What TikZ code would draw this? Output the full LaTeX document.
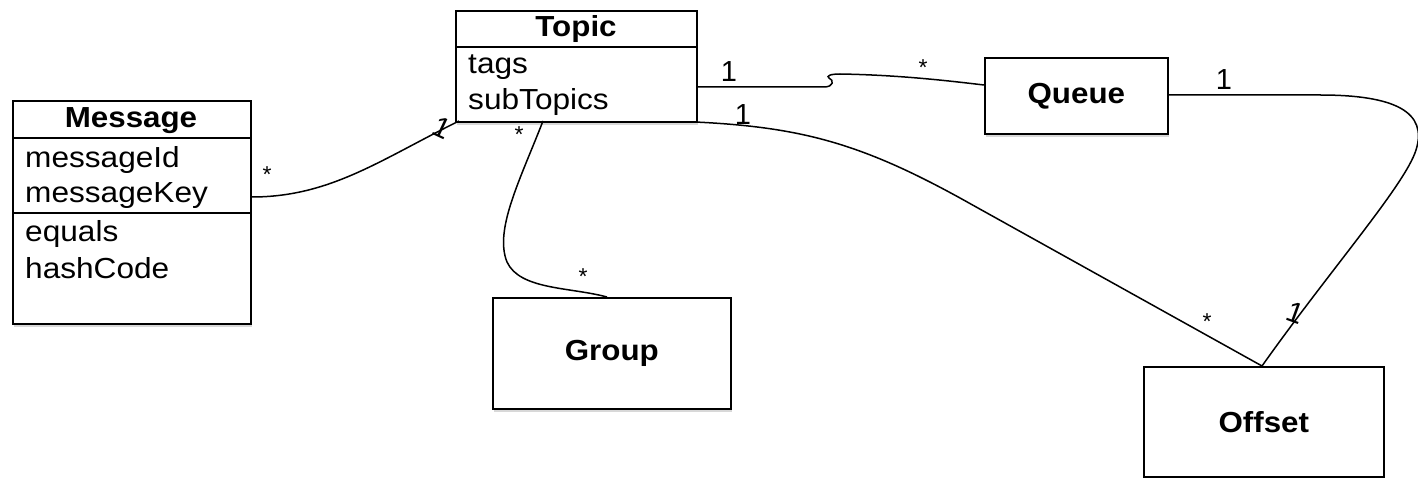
\documentclass[tikz,border=0pt]{standalone}
\usepackage{fontspec}
\setmainfont{Liberation Sans}
\usetikzlibrary{shadows}
\begin{document}
\begin{tikzpicture}[x=1pt,y=-1pt,
  box/.style={draw=black, line width=1.6pt, fill=white, rectangle, inner sep=0pt,
    drop shadow={shadow xshift=1pt, shadow yshift=-3pt, opacity=0.3}},
  conn/.style={draw=black, line width=1.5pt},
  sep/.style={draw=black, line width=1.5pt},
  attr/.style={font=\fontsize{29}{34}\selectfont, inner sep=0pt, anchor=base west, xscale=1.09},
  ttl/.style={font=\bfseries\fontsize{29}{34}\selectfont, inner sep=0pt, xscale=1.08},
  mult/.style={font=\fontsize{29}{34}\selectfont, inner sep=0pt},
  star/.style={font=\fontsize{23}{27}\selectfont, inner sep=0pt}]
\useasboundingbox (0,0) rectangle (1418,478);
\fill[white] (0,0) rectangle (1418,478);

% boxes
\node[box, minimum width=238pt, minimum height=223pt, anchor=north west] (msg) at (12,100) {};
\node[box, minimum width=241pt, minimum height=111pt, anchor=north west] (topic) at (455,10) {};
\node[box, minimum width=183pt, minimum height=76pt, anchor=north west] (queue) at (984,57) {};
\node[box, minimum width=238pt, minimum height=111pt, anchor=north west] (group) at (492,297) {};
\node[box, minimum width=240pt, minimum height=110pt, anchor=north west] (offset) at (1143,366) {};

% compartments
\draw[sep] (msg.west |- 0,138) -- (msg.east |- 0,138);
\draw[sep] (msg.west |- 0,213) -- (msg.east |- 0,213);
\draw[sep] (topic.west |- 0,47) -- (topic.east |- 0,47);

% texts
\node[ttl, anchor=base] (msgT) at (131,128) {Message};
\node[attr] (a1) at (25,168) {messageId};
\node[attr] (a2) at (25,203) {messageKey};
\node[attr] (a3) at (25,242) {equals};
\node[attr] (a4) at (25,278) {hashCode};
\node[ttl, anchor=base] (topT) at (576,37) {Topic};
\node[attr] (t1) at (468,74) {tags};
\node[attr] (t2) at (468,110) {subTopics};
\node[ttl] (qT) at (queue.center) {Queue};
\node[ttl] (gT) at (group.center) {Group};
\node[ttl] (oT) at (offset.center) {Offset};

% connector end points
\coordinate (mE) at (msg.east |- 0,197);
\coordinate (tBL) at (459,121);
\coordinate (tR) at (topic.east |- 0,87);
\coordinate (qW) at (queue.west |- 0,85);
\coordinate (tB) at (543,121);
\coordinate (gN) at (607,297);
\coordinate (tBR) at (695,122);
\coordinate (oN) at (1262,366);
\coordinate (qE) at (queue.east |- 0,95);

% connectors
\draw[conn] (mE) .. controls (330,197) and (380,160) .. (tBL);
\draw[conn] (tR) -- (824,87) .. controls (834,87) and (834,80) .. (829,78)
  .. controls (826,76) and (830,74) .. (840,74)
  .. controls (900,75) and (950,81) .. (qW);
\draw[conn] (tB) .. controls (520,180) and (494,230) .. (507,262)
  .. controls (520,290) and (570,287) .. (gN);
\draw[conn] (tBR) .. controls (800,127) and (860,143) .. (960,198) -- (oN);
\draw[conn] (qE) -- (1320,95) .. controls (1395,95) and (1428,112) .. (1416,150)
  .. controls (1405,185) and (1330,270) .. (oN);

% multiplicities
\node[star] (s1) at (267,175) {*};
\node[mult, rotate=-25] (n1) at (442,128) {1};
\node[mult] (n2) at (729,72) {1};
\node[star] (s2) at (923,68) {*};
\node[mult] (n3) at (743,115) {1};
\node[star] (s3) at (519,135) {*};
\node[star] (s4) at (583,277) {*};
\node[mult] (n4) at (1224,80) {1};
\node[mult, rotate=-20] (n5) at (1295,313) {1};
\node[star] (s5) at (1207,322) {*};
\end{tikzpicture}
\end{document}
